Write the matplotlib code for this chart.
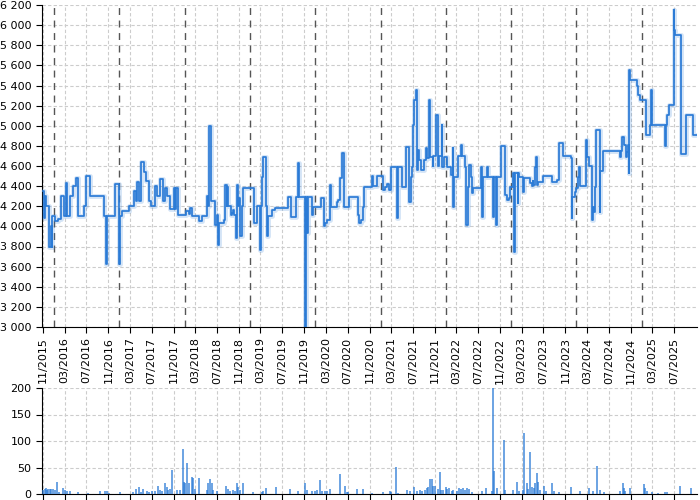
import numpy as np
import pandas as pd
import matplotlib
matplotlib.use("Agg")
import matplotlib.pyplot as plt
import matplotlib.dates as mdates
from matplotlib.ticker import FuncFormatter, MultipleLocator

# ---- price series (months after 2015-11-01, price) ----
price_months = [
    0.0, 0.15, 0.35, 0.6, 1.1, 1.5, 1.6, 1.7, 2.2, 2.8, 3.3, 3.4, 3.8, 4.3, 4.5, 4.9, 5.6, 6.0, 6.4, 7.6,
    7.9, 8.7, 11.3, 11.6, 11.85, 13.3, 13.9, 14.1, 14.6, 15.8, 16.7, 17.0, 17.3, 17.7, 18.1, 18.6, 19.0,
    19.5, 19.8, 20.5, 21.0, 21.5, 22.0, 22.4, 22.8, 23.4, 24.0, 24.2, 24.5, 24.8, 26.2, 26.8, 27.0, 27.3,
    28.7, 29.3, 30.07, 30.19, 30.37, 30.49, 30.8, 30.92, 31.54, 31.66, 31.9, 32.21, 32.33, 33.25, 33.5,
    33.74, 33.86, 33.99, 34.48, 34.66, 34.97, 35.15, 35.46, 35.58, 35.76, 35.95, 36.19, 36.5, 36.8, 38.83,
    39.26, 39.87, 39.99, 40.24, 40.48, 40.91, 41.1, 41.4, 42.0, 42.6, 45.08, 45.57, 46.49, 46.92, 47.04,
    48.14, 48.33, 48.57, 48.75, 49.43, 49.67, 51.02, 51.63, 51.82, 52.12, 52.74, 52.92, 53.96, 54.27,
    54.58, 54.88, 55.22, 55.37, 56.29, 57.82, 58.13, 58.44, 58.86, 59.05,
    60.52, 60.7, 61.31, 62.54, 62.85, 63.15, 63.58, 63.95, 64.99, 65.17, 66.03, 66.71, 67.32, 67.63,
    67.87, 68.05, 68.24, 68.55, 68.67, 68.97, 69.16, 69.4, 70.08, 70.32, 70.57, 71.0, 71.18, 71.61, 71.73,
    72.22, 72.53, 72.71, 73.26, 73.39, 73.75, 74.18, 74.98, 75.28, 75.41, 75.59, 76.33, 76.76, 76.94,
    77.55, 77.67, 78.04, 78.29, 78.66, 78.78, 79.08, 80.43, 80.62, 80.92, 81.54, 81.7, 82.76, 82.9,
    83.25, 83.4, 84.17, 84.9, 85.21, 85.64, 85.82, 86.44, 86.62, 86.8, 87.23, 87.35, 87.48, 88.15, 88.3,
    89.5, 89.8, 90.0, 90.11, 90.42, 90.6, 90.85, 91.03, 91.95, 93.48, 94.52, 94.89, 95.63, 96.98, 97.16,
    97.28, 97.77, 97.96, 98.26, 98.45, 98.69, 99.79, 100.04, 100.28, 100.96, 101.14, 101.26, 101.45,
    101.63, 102.25, 102.37, 102.86, 106.04, 106.2, 106.47, 106.66, 107.09, 107.27, 107.45, 107.58,
    107.76, 107.88, 109.11, 109.29, 109.72, 110.76, 111.44, 111.74, 111.87, 114.13, 114.26, 114.38,
    114.62, 114.93, 115.85, 115.97, 116.15, 117.2, 117.99, 118.12, 118.18, 119.22, 119.34, 120.2,
]
price_values = [
    4350, 4080, 4300, 4200, 3800, 4000, 3800, 4100, 4050, 4070, 4080, 4300, 4100, 4430, 4100, 4300, 4400, 4480, 4100, 4200,
    4500, 4300, 4100, 3630, 4100, 4420, 3630, 4100, 4150, 4200, 4350, 4250, 4440, 4250, 4640, 4545, 4450,
    4250, 4200, 4400, 4300, 4470, 4250, 4380, 4300, 4170, 4380, 4170, 4380, 4110, 4150, 4120, 4180, 4100,
    4050, 4100, 4200, 4300, 4200, 5000, 4480, 4250, 4230, 4010, 4110, 3815, 4030, 4060, 4410,
    4200, 4395, 4200, 4110, 4130, 4160, 4110, 3880, 4410, 4200, 4280, 3900, 4200, 4380, 4036,
    4200, 3765, 4200, 4490, 4690, 4200, 3900, 4100, 4160, 4180, 4295, 4096, 4295, 4626, 4295,
    3000, 4295, 3930, 4295, 4110, 4195, 4280, 4000, 4030, 4065, 4410, 4195, 4245, 4260,
    4477, 4725, 4690, 4195, 4295, 4110, 4030, 4065, 4195, 4395,
    4500, 4400, 4500, 4360, 4395, 4420, 4360, 4593, 4080, 4593, 4395, 4785, 4245, 4495,
    4593, 5007, 5256, 5355, 4560, 4760, 4660, 4560, 4660, 4775, 4675, 5256, 4690, 4600, 4700,
    5107, 4600, 4700, 5007, 4593, 4690, 4593, 4510, 4775, 4196, 4495, 4700, 4808, 4700,
    4593, 4013, 4395, 4610, 4495, 4330, 4378, 4593, 4096, 4495, 4593, 4495, 4096, 4495,
    4013, 4495, 4798, 4312, 4262, 4280, 4395, 4530, 3748, 4530, 4230, 4530, 4495, 4345, 4480,
    4430, 4400, 4450, 4410, 4590, 4693, 4410, 4444, 4500, 4444, 4460, 4825, 4699, 4675, 4080,
    4295, 4345, 4380, 4494, 4593, 4400, 4858, 4693, 4600, 4063, 4195, 4145, 4395,
    4958, 4145, 4553, 4752, 4693, 4752, 4890, 4808, 4693, 4740, 4808, 4530,
    5554, 5455, 5400, 5310, 5256, 4908, 5007, 5355, 5007, 5007, 4800, 5007,
    5107, 5206, 6150, 5952, 5902, 4719, 4719, 4830, 5107, 5107, 4908, 4908,
]

# ---- volume series ----
volume_months = [
    0.04, 0.3, 0.53, 0.8, 1.0, 1.27, 1.5, 1.88, 2.2, 2.61, 3.0, 3.72, 4.0, 4.33, 4.94, 6.47, 8.3, 10.46,
    11.38, 11.68, 12.2, 14.13, 16.58, 17.07, 17.68, 18.0, 18.42, 19.03, 19.5, 19.95, 20.57, 21.18, 21.5,
    21.79, 22.41, 22.7, 23.02, 23.3, 23.63, 24.55, 25.16, 25.65, 25.9, 26.08, 26.51, 26.88, 27.31, 27.61,
    27.92, 28.72, 30.07, 30.37, 30.68, 31.05, 31.29, 31.9, 33.62, 34.0, 34.36, 34.84, 35.2, 35.58, 35.89,
    36.2, 36.68, 38.65, 40.18, 40.4, 40.97, 42.81, 45.39, 46.92, 48.14, 48.45, 49.37, 49.98, 50.3, 50.9,
    51.21, 51.82, 52.2, 52.74, 54.58, 55.5, 55.8, 56.11,
    57.65, 58.75, 60.5, 62.55, 63.77, 64.0, 64.88, 65.3, 66.84, 67.45, 68.18, 68.67, 69.2, 69.6, 70.2,
    70.51, 70.8, 71.13, 71.43, 71.7, 72.05, 72.5, 72.96, 73.2, 73.58, 74.0, 74.3, 74.68, 75.1, 75.41,
    76.0, 76.52, 76.8, 77.25, 77.6, 77.87, 78.2, 78.78, 80.62, 81.42, 82.46, 82.77, 82.89, 83.38, 84.73,
    84.97, 86.44, 87.06, 87.5, 88.16, 88.41, 88.9, 89.2, 89.51, 89.81, 90.2, 90.43, 90.73, 91.04, 91.4,
    92.14, 92.4, 93.49, 93.8, 94.72, 96.98, 98.7, 100.23, 101.03, 101.76, 102.25, 102.99, 105.93, 106.54,
    106.79, 107.0, 107.77, 110.34, 110.65, 111.0, 111.87, 113.0, 114.32, 114.6, 117.08, 119.04,
]
volume_values = [
    8, 10, 11, 8, 10, 9, 10, 9, 7, 23, 3, 11, 7, 5, 5, 3, 2, 6,
    6, 6, 2, 4, 3, 9, 14, 4, 10, 5, 3, 6, 6, 15, 8,
    6, 21, 13, 8, 10, 45, 8, 8, 84, 23, 20, 58, 20, 33, 31,
    10, 30, 7, 20, 29, 20, 8, 5, 15, 10, 5, 7, 5, 20, 13,
    8, 20, 3, 4, 5, 12, 13, 9, 6, 20, 8, 6, 6, 8, 27,
    5, 6, 5, 9, 38, 15, 3, 3,
    9, 10, 2, 3, 6, 4, 51, 2, 8, 5, 14, 5, 7, 6, 8,
    11, 13, 28, 29, 15, 15, 10, 42, 8, 8, 14, 10, 11, 6, 8,
    5, 11, 9, 11, 8, 11, 10, 3, 6, 11, 6, 200, 44, 11, 102,
    8, 8, 23, 6, 8, 115, 20, 10, 79, 14, 12, 20, 39, 23, 8,
    15, 6, 20, 6, 3, 13, 5, 11, 5, 53, 8, 3, 5, 20,
    11, 5, 11, 19, 11, 5, 3, 2, 3, 4, 15, 11,
]

origin = pd.Timestamp("2015-11-01")
def to_dates(months):
    return origin + pd.to_timedelta(np.asarray(months) * 30.4375, unit="D")

p_dates = to_dates(price_months)
v_dates = to_dates(volume_months)
year_lines = pd.date_range("2016-01-01", "2025-01-01", freq="YS")
tick_dates = pd.date_range("2015-11-01", "2025-07-01", freq="4MS")
xlim = (to_dates([-0.18])[0], to_dates([120.2])[0])

LINE = "#2b7bd6"
GRID = "#cccccc"

fig = plt.figure(figsize=(7, 5), dpi=100)
ax = fig.add_axes([0.06, 0.346, 0.936, 0.644])
axv = fig.add_axes([0.06, 0.012, 0.936, 0.212])

fmt = FuncFormatter(lambda v, p: f"{v:,.0f}".replace(",", " "))

# top chart
ax.step(p_dates, price_values, where="post", color=LINE, lw=3.5, alpha=0.2, zorder=3)
ax.step(p_dates, price_values, where="post", color=LINE, lw=1.25, zorder=4)
for d in year_lines:
    ax.axvline(d, color="#555555", lw=1, ls=(0, (5, 4)), zorder=2)
ax.set_ylim(3000, 6200)
ax.yaxis.set_major_locator(MultipleLocator(200))
ax.yaxis.set_major_formatter(fmt)
ax.set_xlim(*xlim)
ax.set_xticks(tick_dates)
ax.xaxis.set_major_formatter(mdates.DateFormatter("%m/%Y"))
for lab in ax.get_xticklabels():
    lab.set_rotation(90)
ax.grid(True, color=GRID, ls=(0, (3, 2)), lw=0.8, zorder=0)

# volume chart
axv.vlines(v_dates, 0, volume_values, color=LINE, lw=1.3, alpha=0.75, zorder=3)
axv.set_ylim(0, 200)
axv.yaxis.set_major_locator(MultipleLocator(50))
axv.set_xlim(*xlim)
axv.set_xticks(tick_dates)
axv.set_xticklabels([])
axv.tick_params(axis="x", length=0)
axv.grid(True, color=GRID, ls=(0, (3, 2)), lw=0.8, zorder=0)

for a in (ax, axv):
    a.spines["top"].set_visible(False)
    a.spines["right"].set_visible(False)
    a.spines["left"].set_color("black")
    a.spines["bottom"].set_color("black")
    a.tick_params(labelsize=8, colors="black", length=4)
    a.set_axisbelow(True)

fig.savefig("out.png", dpi=100)
